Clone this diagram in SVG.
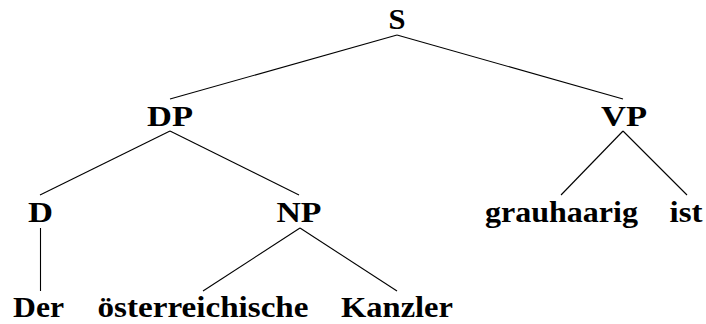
<svg xmlns="http://www.w3.org/2000/svg" width="706" height="324" viewBox="0 0 706 324">
<style>
text{font-family:'Liberation Serif','DejaVu Serif',serif;font-weight:bold;font-size:29px;fill:#000;text-anchor:middle}
.edge{stroke:#000;stroke-width:1.1;fill:none}
</style>
<rect width="706" height="324" fill="#fff"/>
<g id="connectors">
<line class="edge" x1="397" y1="35" x2="170" y2="99"/>
<line class="edge" x1="397" y1="35" x2="623" y2="99"/>
<line class="edge" x1="170" y1="131" x2="40" y2="195"/>
<line class="edge" x1="170" y1="131" x2="299" y2="195"/>
<line class="edge" x1="623" y1="131" x2="561" y2="195"/>
<line class="edge" x1="623" y1="131" x2="687" y2="195"/>
<line class="edge" x1="40.5" y1="228" x2="40.5" y2="291"/>
<line class="edge" x1="300" y1="228" x2="203" y2="291"/>
<line class="edge" x1="300" y1="228" x2="397" y2="291"/>
</g>
<g id="S"><text x="397" y="29" textLength="17" lengthAdjust="spacingAndGlyphs">S</text></g>
<g id="DP"><text x="170" y="125.5" textLength="46" lengthAdjust="spacingAndGlyphs">DP</text></g>
<g id="VP"><text x="624" y="125.5" textLength="46" lengthAdjust="spacingAndGlyphs">VP</text></g>
<g id="D"><text x="40.5" y="222" textLength="25" lengthAdjust="spacingAndGlyphs">D</text></g>
<g id="NP"><text x="299" y="222" textLength="45" lengthAdjust="spacingAndGlyphs">NP</text></g>
<g id="grauhaarig"><text x="561.5" y="222" textLength="153" lengthAdjust="spacingAndGlyphs">grauhaarig</text></g>
<g id="ist"><text x="686" y="222" textLength="33" lengthAdjust="spacingAndGlyphs">ist</text></g>
<g id="Der"><text x="38.5" y="317" textLength="51" lengthAdjust="spacingAndGlyphs">Der</text></g>
<g id="oesterreichische"><text x="203" y="317" textLength="211" lengthAdjust="spacingAndGlyphs">österreichische</text></g>
<g id="Kanzler"><text x="397" y="317" textLength="112" lengthAdjust="spacingAndGlyphs">Kanzler</text></g>
</svg>
